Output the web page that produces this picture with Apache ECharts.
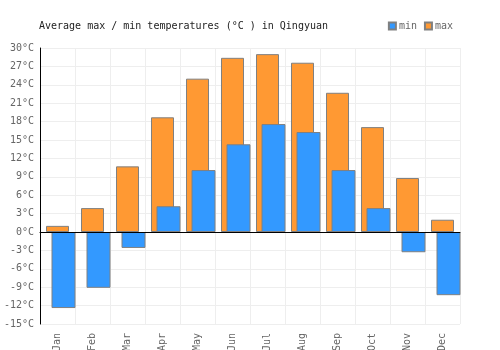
<!DOCTYPE html>
<html>
<head>
<meta charset="utf-8">
<script src="https://cdn.jsdelivr.net/npm/echarts@6/dist/echarts.min.js"></script>
<style>
  html, body { margin: 0; padding: 0; background: #fff; }
  #chart { width: 500px; height: 350px; }
</style>
</head>
<body>
<div id="chart"></div>
<script>
var months = ['Jan', 'Feb', 'Mar', 'Apr', 'May', 'Jun', 'Jul', 'Aug', 'Sep', 'Oct', 'Nov', 'Dec'];
var maxTemps = [1.0, 3.9, 10.7, 18.7, 25.0, 28.4, 29.0, 27.6, 22.7, 17.1, 8.8, 2.0];
var minTemps = [-12.4, -9.1, -2.6, 4.2, 10.1, 14.3, 17.6, 16.3, 10.1, 3.9, -3.3, -10.3];

var mono = 'DejaVu Sans Mono';
var myChart = echarts.init(document.getElementById('chart'));

var option = {
  animation: false,
  title: {
    text: 'Average max / min temperatures (°C ) in Qingyuan',
    left: 34,
    top: 16,
    textStyle: { fontFamily: mono, fontSize: 10, fontWeight: 'normal', color: '#222' }
  },
  legend: {
    data: ['min', 'max'],
    right: 42,
    top: 16,
    itemWidth: 7,
    itemHeight: 7,
    itemGap: 7,
    icon: 'rect',
    textStyle: { fontFamily: mono, fontSize: 10, color: '#666', padding: [0, 0, 0, -2] }
  },
  // two grids so the blue bars sit a little to the right of the orange ones
  grid: [
    { left: 40, top: 48, width: 420, height: 276, outerBoundsMode: 'none', containLabel: false },
    { left: 46, top: 48, width: 420, height: 276, outerBoundsMode: 'none', containLabel: false }
  ],
  xAxis: [
    {
      type: 'category', gridIndex: 0, data: months,
      axisLine: { show: false, onZero: false },
      axisTick: { show: false },
      axisLabel: { rotate: 90, fontFamily: mono, fontSize: 10, color: '#666', margin: 9 },
      splitLine: { show: true, lineStyle: { color: '#eee' } }
    },
    {
      type: 'category', gridIndex: 1, data: months, show: false,
      axisLine: { onZero: false }
    },
    {
      // zero line drawn above the bars
      type: 'category', gridIndex: 0, data: months, z: 10,
      axisLine: { show: true, onZero: true, lineStyle: { color: '#000', width: 1 } },
      axisTick: { show: false },
      axisLabel: { show: false },
      splitLine: { show: false }
    }
  ],
  yAxis: [
    {
      type: 'value', gridIndex: 0, min: -15, max: 30, interval: 3,
      axisLine: { show: true, lineStyle: { color: '#000' } },
      axisTick: { show: false },
      axisLabel: { formatter: '{value}°C', fontFamily: mono, fontSize: 10, color: '#666', margin: 6 },
      splitLine: { show: true, lineStyle: { color: '#eee' } }
    },
    {
      type: 'value', gridIndex: 1, min: -15, max: 30, interval: 3, show: false,
      splitLine: { show: false }
    }
  ],
  series: [
    {
      name: 'max', type: 'bar', xAxisIndex: 0, yAxisIndex: 0,
      data: maxTemps, barWidth: 23, z: 2,
      itemStyle: { color: '#ff9933', borderColor: '#808080', borderWidth: 1 }
    },
    {
      name: 'min', type: 'bar', xAxisIndex: 1, yAxisIndex: 1,
      data: minTemps, barWidth: 24, z: 3,
      itemStyle: { color: '#3399ff', borderColor: '#808080', borderWidth: 1 }
    }
  ]
};

myChart.setOption(option);
</script>
</body>
</html>
